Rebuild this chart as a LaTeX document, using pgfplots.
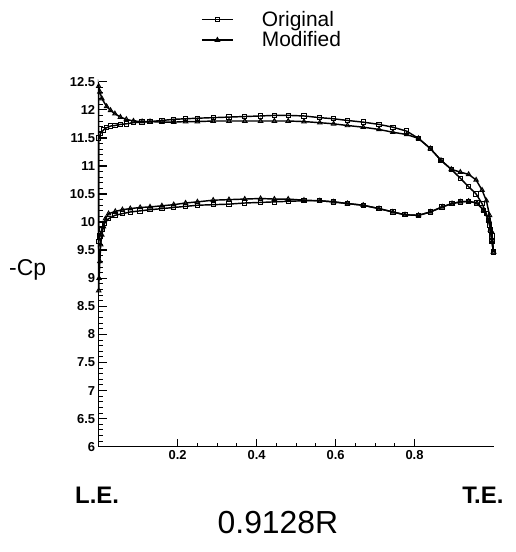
\documentclass[border=0pt]{standalone}
\usepackage{fontspec}
\setmainfont{Liberation Sans}
\usepackage{pgfplots}
\pgfplotsset{compat=1.18}
\begin{document}
\begin{tikzpicture}
\useasboundingbox (-98.7bp,-105.3bp) rectangle (417.3bp,446.7bp);
\begin{axis}[
  at={(0,0)}, anchor=south west,
  scale only axis,
  width=394.8bp, height=365bp,
  xmin=0, xmax=1, ymin=6, ymax=12.5,
  axis x line=bottom, axis y line=left,
  axis line style={-, line width=1.6pt},
  xtick={0.2,0.4,0.6,0.8},
  xticklabels={\textbf{0.2},\textbf{0.4},\textbf{0.6},\textbf{0.8}},
  ytick={6,6.5,...,12.5},
  yticklabels={\textbf{6},\textbf{6.5},\textbf{7},\textbf{7.5},\textbf{8},\textbf{8.5},\textbf{9},\textbf{9.5},\textbf{10},\textbf{10.5},\textbf{11},\textbf{11.5},\textbf{12},\textbf{12.5}},
  minor x tick num=3,
  minor y tick num=4,
  tick align=inside,
  major tick length=8bp,
  minor tick length=4bp,
  every major tick/.style={line width=1.4pt, black},
  every minor tick/.style={line width=0.9pt, black},
  tick label style={font=\bfseries\fontsize{13}{13}\selectfont},
  /pgf/number format/assume math mode=true,
  clip=false,
  legend style={draw=none, fill=none, at={(0.2515,1.205)}, anchor=north west,
    font=\fontsize{21}{23}\selectfont, row sep=0pt},
  legend cell align=left,
  legend image code/.code={%
    \draw[mark repeat=2, mark phase=2] plot coordinates {(0bp,0bp)(15.5bp,0bp)(31bp,0bp)};
    \path[draw=none] (0bp,0bp) -- (58bp,0bp);},
]
\addplot[black, line width=1.45pt, mark=square, mark size=2.2pt, mark options={solid, fill=white, line width=1pt}] coordinates {
(1.0,9.47)(0.996,9.65)(0.992,9.86)(0.988,10.03)(0.975,10.21)(0.958,10.34)(0.937,10.37)(0.916,10.36)(0.895,10.33)(0.87,10.27)(0.84,10.18)(0.81,10.12)(0.776,10.13)(0.745,10.18)(0.71,10.24)(0.67,10.30)(0.63,10.33)(0.595,10.36)(0.56,10.38)(0.52,10.38)(0.48,10.37)(0.445,10.36)(0.41,10.35)(0.37,10.34)(0.33,10.32)(0.29,10.31)(0.25,10.30)(0.22,10.28)(0.19,10.26)(0.16,10.24)(0.13,10.22)(0.105,10.20)(0.08,10.18)(0.06,10.15)(0.041,10.12)(0.025,10.06)(0.015,9.98)(0.008,9.88)(0.003,9.75)(0.0,9.65)
(0.0,11.50)(0.005,11.58)(0.012,11.64)(0.02,11.68)(0.03,11.71)(0.041,11.72)(0.055,11.74)(0.07,11.75)(0.088,11.77)(0.11,11.78)(0.13,11.79)(0.16,11.81)(0.19,11.83)(0.22,11.84)(0.25,11.85)(0.29,11.86)(0.33,11.87)(0.37,11.88)(0.41,11.89)(0.445,11.90)(0.48,11.90)(0.52,11.89)(0.56,11.86)(0.595,11.84)(0.63,11.81)(0.67,11.78)(0.71,11.74)(0.745,11.69)(0.78,11.62)(0.81,11.49)(0.84,11.31)(0.867,11.10)(0.893,10.94)(0.916,10.78)(0.937,10.63)(0.956,10.50)(0.971,10.33)(0.982,10.15)(0.99,9.95)(0.996,9.75)(1.0,9.47)
};
\addlegendentry{Original}
\addplot[black, line width=1.45pt, mark=triangle, mark size=2.5pt, mark options={solid, fill=white, line width=1pt}] coordinates {
(1.0,9.47)(0.996,9.65)(0.992,9.86)(0.988,10.03)(0.975,10.21)(0.958,10.34)(0.937,10.37)(0.916,10.36)(0.895,10.33)(0.87,10.27)(0.84,10.18)(0.81,10.12)(0.776,10.13)(0.745,10.18)(0.71,10.24)(0.67,10.30)(0.63,10.33)(0.595,10.36)(0.56,10.38)(0.52,10.39)(0.48,10.41)(0.445,10.41)(0.41,10.42)(0.37,10.41)(0.33,10.40)(0.29,10.39)(0.25,10.36)(0.22,10.34)(0.19,10.31)(0.16,10.29)(0.13,10.27)(0.105,10.26)(0.08,10.24)(0.06,10.22)(0.042,10.19)(0.025,10.15)(0.017,10.06)(0.012,9.92)(0.008,9.77)(0.005,9.6)(0.003,9.3)(0.001,9.0)(0.0,8.78)
(0.0,12.42)(0.003,12.32)(0.008,12.2)(0.02,12.06)(0.03,11.99)(0.041,11.93)(0.055,11.87)(0.07,11.83)(0.088,11.80)(0.11,11.79)(0.13,11.79)(0.16,11.78)(0.19,11.78)(0.22,11.79)(0.25,11.79)(0.29,11.80)(0.33,11.80)(0.37,11.80)(0.41,11.80)(0.445,11.80)(0.48,11.80)(0.52,11.79)(0.56,11.77)(0.595,11.75)(0.63,11.72)(0.67,11.69)(0.71,11.65)(0.745,11.60)(0.78,11.56)(0.81,11.49)(0.84,11.31)(0.867,11.10)(0.893,10.94)(0.916,10.89)(0.937,10.85)(0.956,10.75)(0.971,10.57)(0.982,10.38)(0.99,10.12)(0.996,9.82)(1.0,9.47)
};
\addlegendentry{Modified}
\node[font=\fontsize{23}{23}\selectfont] at (rel axis cs:-0.18,0.484) {-Cp};
\node[font=\fontsize{24}{24}\selectfont\bfseries] at (rel axis cs:-0.004,-0.132) {L.E.};
\node[font=\fontsize{24}{24}\selectfont\bfseries] at (rel axis cs:0.973,-0.132) {T.E.};
\node[font=\fontsize{32}{32}\selectfont] at (rel axis cs:0.454,-0.209) {0.9128R};
\end{axis}
\end{tikzpicture}
\end{document}
